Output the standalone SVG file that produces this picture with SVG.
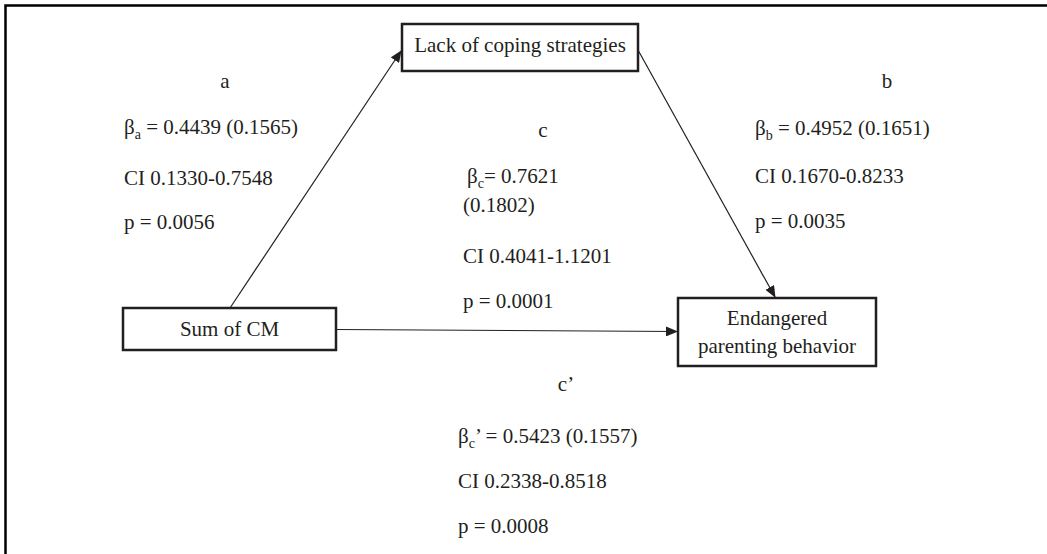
<svg xmlns="http://www.w3.org/2000/svg" width="1047" height="554" viewBox="0 0 1047 554">
<style>
text{font-family:"Liberation Serif","Times New Roman",serif;font-size:21px;fill:#231f20}
.sub{font-size:14px}
.box{fill:#fff;stroke:#231f20;stroke-width:2.5}
.edge{stroke:#231f20;stroke-width:1.2;fill:none}
.mid{text-anchor:middle}
</style>
<defs>
<marker id="arr" markerWidth="12" markerHeight="10" refX="11" refY="5" orient="auto" markerUnits="userSpaceOnUse">
<path d="M0,0 L12,5 L0,10 Z" fill="#231f20"/>
</marker>
</defs>
<rect width="1047" height="554" fill="#fff"/>
<path d="M5.5,554 V5.5 H1047" fill="none" stroke="#000" stroke-width="2.5"/>
<g id="connectors">
<line class="edge" x1="230" y1="308" x2="401" y2="51" marker-end="url(#arr)"/>
<line class="edge" x1="638" y1="50" x2="775" y2="297" marker-end="url(#arr)"/>
<line class="edge" x1="336" y1="329.5" x2="677" y2="331.5" marker-end="url(#arr)"/>
</g>
<g id="node-lack">
<rect class="box" x="402" y="24" width="236" height="47"/>
<text class="mid" x="520" y="52">Lack of coping strategies</text>
</g>
<g id="node-sum">
<rect class="box" x="123" y="308" width="213" height="42"/>
<text class="mid" x="229.5" y="336">Sum of CM</text>
</g>
<g id="node-endangered">
<rect class="box" x="678" y="298" width="198" height="68"/>
<text class="mid" x="777" y="325">Endangered</text>
<text class="mid" x="777" y="353">parenting behavior</text>
</g>
<g id="label-a">
<text class="mid" x="225" y="88">a</text>
<text x="124" y="134">β<tspan class="sub" dy="5">a</tspan><tspan dy="-5"> = 0.4439 (0.1565)</tspan></text>
<text x="124" y="185">CI 0.1330-0.7548</text>
<text x="124" y="229">p = 0.0056</text>
</g>
<g id="label-b">
<text class="mid" x="887" y="88">b</text>
<text x="755" y="135">β<tspan class="sub" dy="5">b</tspan><tspan dy="-5"> = 0.4952 (0.1651)</tspan></text>
<text x="755" y="183">CI 0.1670-0.8233</text>
<text x="755" y="228">p = 0.0035</text>
</g>
<g id="label-c">
<text class="mid" x="543" y="137">c</text>
<text x="467" y="183">β<tspan class="sub" dy="5">c</tspan><tspan dy="-5">= 0.7621</tspan></text>
<text x="463" y="212">(0.1802)</text>
<text x="463" y="263">CI 0.4041-1.1201</text>
<text x="463" y="308">p = 0.0001</text>
</g>
<g id="label-cprime">
<text class="mid" x="566" y="391">c’</text>
<text x="458" y="443">β<tspan class="sub" dy="5">c</tspan><tspan dy="-5">’ = 0.5423 (0.1557)</tspan></text>
<text x="458" y="488">CI 0.2338-0.8518</text>
<text x="458" y="533">p = 0.0008</text>
</g>
</svg>
